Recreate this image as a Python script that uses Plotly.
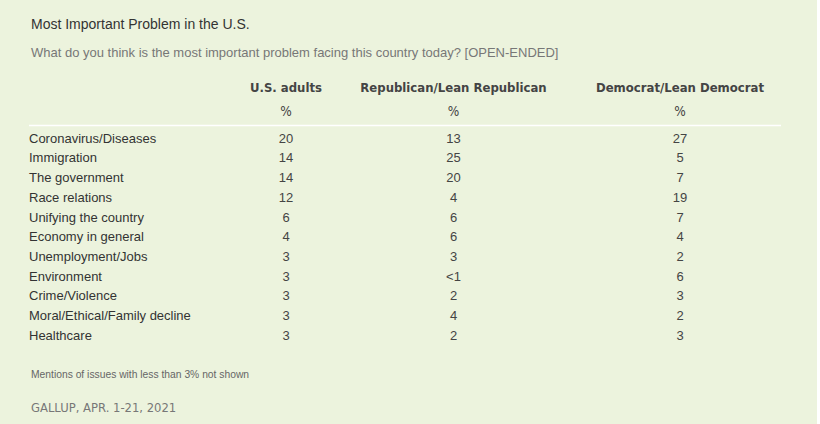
import plotly.graph_objects as go

# ---------------- data ----------------
title = "Most Important Problem in the U.S."
subtitle = "What do you think is the most important problem facing this country today? [OPEN-ENDED]"
columns = ["U.S. adults", "Republican/Lean Republican", "Democrat/Lean Democrat"]
unit_row = ["%", "%", "%"]
problems = [
    "Coronavirus/Diseases", "Immigration", "The government", "Race relations",
    "Unifying the country", "Economy in general", "Unemployment/Jobs",
    "Environment", "Crime/Violence", "Moral/Ethical/Family decline", "Healthcare",
]
us_adults = ["20", "14", "14", "12", "6", "4", "3", "3", "3", "3", "3"]
republican = ["13", "25", "20", "4", "6", "6", "3", "<1", "2", "4", "2"]
democrat = ["27", "5", "7", "19", "7", "4", "2", "6", "3", "2", "3"]
footnote = "Mentions of issues with less than 3% not shown"
source = "GALLUP, APR. 1-21, 2021"

# ---------------- layout constants ----------------
W, H = 820, 424
BG = "#ECF3DD"
LEFT = 29
col_x = [286, 453.5, 680]
row_y0, row_step = 139.5, 19.7
header_y, unit_y = 88.5, 113
line_y = 125.5

fig = go.Figure()

row_y = [row_y0 + i * row_step for i in range(len(problems))]

# row labels
fig.add_trace(go.Scatter(
    x=[LEFT] * len(problems), y=row_y, text=problems, mode="text",
    textposition="middle right",
    textfont=dict(family="Liberation Sans, Arial", size=13, color="#333333"),
    hoverinfo="skip", showlegend=False))

# values
for cx, vals in zip(col_x, [us_adults, republican, democrat]):
    fig.add_trace(go.Scatter(
        x=[cx] * len(vals), y=row_y, text=vals, mode="text",
        textposition="middle center",
        textfont=dict(family="Liberation Sans, Arial", size=13, color="#444444"),
        hoverinfo="skip", showlegend=False))

# headers
fig.add_trace(go.Scatter(
    x=col_x, y=[header_y] * 3, text=[f"<b>{c}</b>" for c in columns], mode="text",
    textposition="middle center",
    textfont=dict(family="DejaVu Sans Condensed, Liberation Sans", size=13, color="#444444"),
    hoverinfo="skip", showlegend=False))
fig.add_trace(go.Scatter(
    x=col_x, y=[unit_y] * 3, text=unit_row, mode="text",
    textposition="middle center",
    textfont=dict(family="DejaVu Sans Condensed, Liberation Sans", size=13.5, color="#444444"),
    hoverinfo="skip", showlegend=False))

# separator line
fig.add_shape(type="line", x0=LEFT, x1=781, y0=line_y, y1=line_y,
              line=dict(color="#FFFFFF", width=1.5), xref="x", yref="y")

anns = [
    dict(text=title, x=LEFT, y=24, size=14, color="#333333", family="Liberation Sans, Arial"),
    dict(text=subtitle, x=LEFT, y=52, size=13, color="#777777", family="Liberation Sans, Arial"),
    dict(text=footnote, x=LEFT, y=374, size=10.3, color="#666666", family="Liberation Sans, Arial"),
    dict(text=source, x=LEFT, y=408, size=11.6, color="#777777", family="DejaVu Sans"),
]
for a in anns:
    fig.add_annotation(text=a["text"], x=a["x"], y=a["y"], xref="x", yref="y",
                       xanchor="left", yanchor="middle", showarrow=False,
                       font=dict(size=a["size"], color=a["color"], family=a["family"]))

fig.update_layout(
    width=W, height=H,
    margin=dict(l=0, r=0, t=0, b=0),
    paper_bgcolor="#FFFFFF", plot_bgcolor=BG,
    xaxis=dict(range=[0, 817], domain=[0, 817 / 820], visible=False, fixedrange=True),
    yaxis=dict(range=[H, 0], visible=False, fixedrange=True),
)

fig.write_html("out.html", config={"displayModeBar": False},
               post_script="document.body.style.margin='0';document.body.style.padding='0';")
